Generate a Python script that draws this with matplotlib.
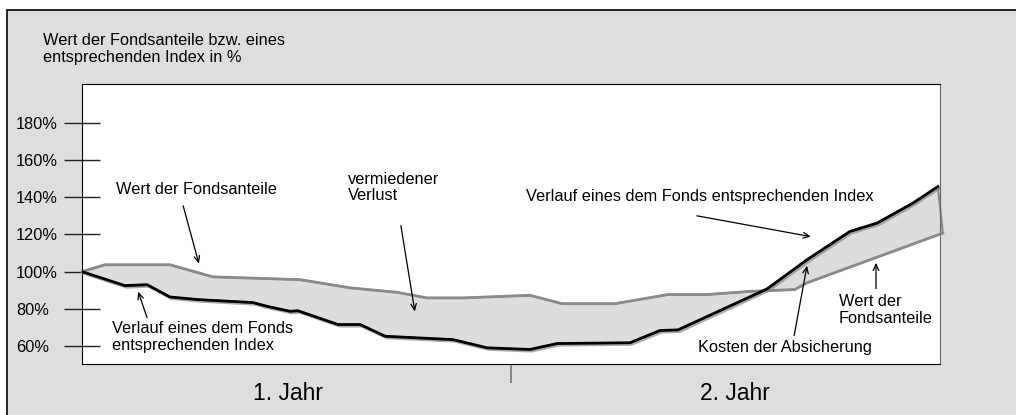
import matplotlib.pyplot as plt
import matplotlib.patheffects as pe
from matplotlib.patches import Rectangle
import numpy as np

plt.rcParams['font.family'] = ['Liberation Sans', 'DejaVu Sans']

# x in months (0..24), y in % of start value
index_x = [0, 1.20, 1.82, 2.46, 3.24, 4.78, 5.17, 5.82, 6.04, 7.16, 7.78, 8.48,
           10.38, 11.33, 12.53, 13.29, 15.33, 16.17, 16.67, 19.16, 20.28, 21.48,
           22.24, 23.24, 23.94]
index_y = [100, 92.5, 93.0, 86.4, 85.0, 83.4, 81.4, 78.7, 79.0, 71.6, 71.6, 65.3,
           63.5, 59.1, 58.2, 61.4, 61.8, 68.4, 68.7, 90.7, 106.4, 121.6,
           126.1, 136.8, 145.7]

fund_x = [0, 0.64, 2.46, 3.66, 6.10, 7.50, 8.81, 9.65, 10.66, 12.53, 13.43,
          14.91, 16.39, 17.48, 18.69, 19.94, 20.28, 24.08]
fund_y = [100, 103.7, 103.7, 97.2, 95.7, 91.3, 88.9, 85.9, 85.9, 87.3, 82.8,
          82.8, 87.7, 87.7, 89.4, 90.4, 94.0, 120.7]

yticks = [60, 80, 100, 120, 140, 160, 180]
ytick_labels = ['60%', '80%', '100%', '120%', '140%', '160%', '180%']
years = ['1. Jahr', '2. Jahr']

W, H = 1016, 415
fs = 11.8
fig = plt.figure(figsize=(W / 100, H / 100), dpi=100)
fig.patch.set_facecolor('white')
fig.add_artist(Rectangle((7 / W, -0.1), 1.2, 1 - 10 / H + 0.1, transform=fig.transFigure,
                         facecolor='#dedede', edgecolor='black', lw=1.2, zorder=0))

ax = fig.add_axes([82 / W, 1 - 364 / H, 858 / W, 280 / H])
ax.set_facecolor('white')
ax.set_xlim(0, 24)
ax.set_ylim(50.4, 200.8)

poly_x = np.r_[fund_x, index_x[::-1]]
poly_y = np.r_[fund_y, index_y[::-1]]
ax.fill(poly_x, poly_y, facecolor='#dddddd', edgecolor='#8a8a8a', lw=1.5,
        clip_on=False, zorder=2)
ax.plot(fund_x, fund_y, color='#8a8a8a', lw=2, clip_on=False, zorder=3)
ax.plot(index_x, index_y, color='black', lw=2, zorder=4,
        path_effects=[pe.SimpleLineShadow(offset=(1.2, -1.2), shadow_color='#888888', alpha=0.7),
                      pe.Normal()])

for s in ['left', 'top', 'bottom']:
    ax.spines[s].set_color('black')
ax.spines['right'].set_color('#666666')

ax.set_yticks(yticks)
ax.set_yticklabels(ytick_labels, fontsize=fs, ha='left')
ax.tick_params(axis='y', direction='inout', length=26.6, width=1, color='#222222',
               pad=34.2)
ax.set_xticks([12])
ax.set_xticklabels([])
ax.tick_params(axis='x', direction='out', length=13.7, width=1.2, color='#777777')

for xc, lab in zip([5.75, 18.25], years):
    ax.text(xc, -0.104, lab, transform=ax.get_xaxis_transform(), fontsize=16.5,
            ha='center', va='center')

fig.text(43 / W, 1 - 49 / H, 'Wert der Fondsanteile bzw. eines\nentsprechenden Index in %',
         fontsize=fs, ha='left', va='center', linespacing=1.1)

tk = dict(fontsize=fs, ha='left', va='center', linespacing=1.1)
ax.text(0.95, 143.9, 'Wert der Fondsanteile', **tk)
ax.text(0.84, 64.9, 'Verlauf eines dem Fonds\nentsprechenden Index', **tk)
ax.text(7.44, 145.1, 'vermiedener\nVerlust', **tk)
ax.text(12.42, 140.6, 'Verlauf eines dem Fonds entsprechenden Index', **tk)
ax.text(17.23, 59.5, 'Kosten der Absicherung', **tk)
ax.text(21.17, 79.4, 'Wert der\nFondsanteile', **tk)

arrow = dict(arrowstyle='->,head_length=0.45,head_width=0.2', color='black', lw=0.9,
             shrinkA=0, shrinkB=0)
arrows = [((2.83, 135.4), (3.27, 104.3)),
          ((1.82, 75.3), (1.57, 89.3)),
          ((8.92, 124.7), (9.31, 78.6)),
          ((17.2, 130.0), (20.39, 118.8)),
          ((19.92, 65.7), (20.28, 103.2)),
          ((22.21, 90.9), (22.21, 104.8))]
for start, tip in arrows:
    ax.annotate('', xy=tip, xytext=start, arrowprops=arrow, zorder=5)

fig.savefig('out.png', dpi=100)
